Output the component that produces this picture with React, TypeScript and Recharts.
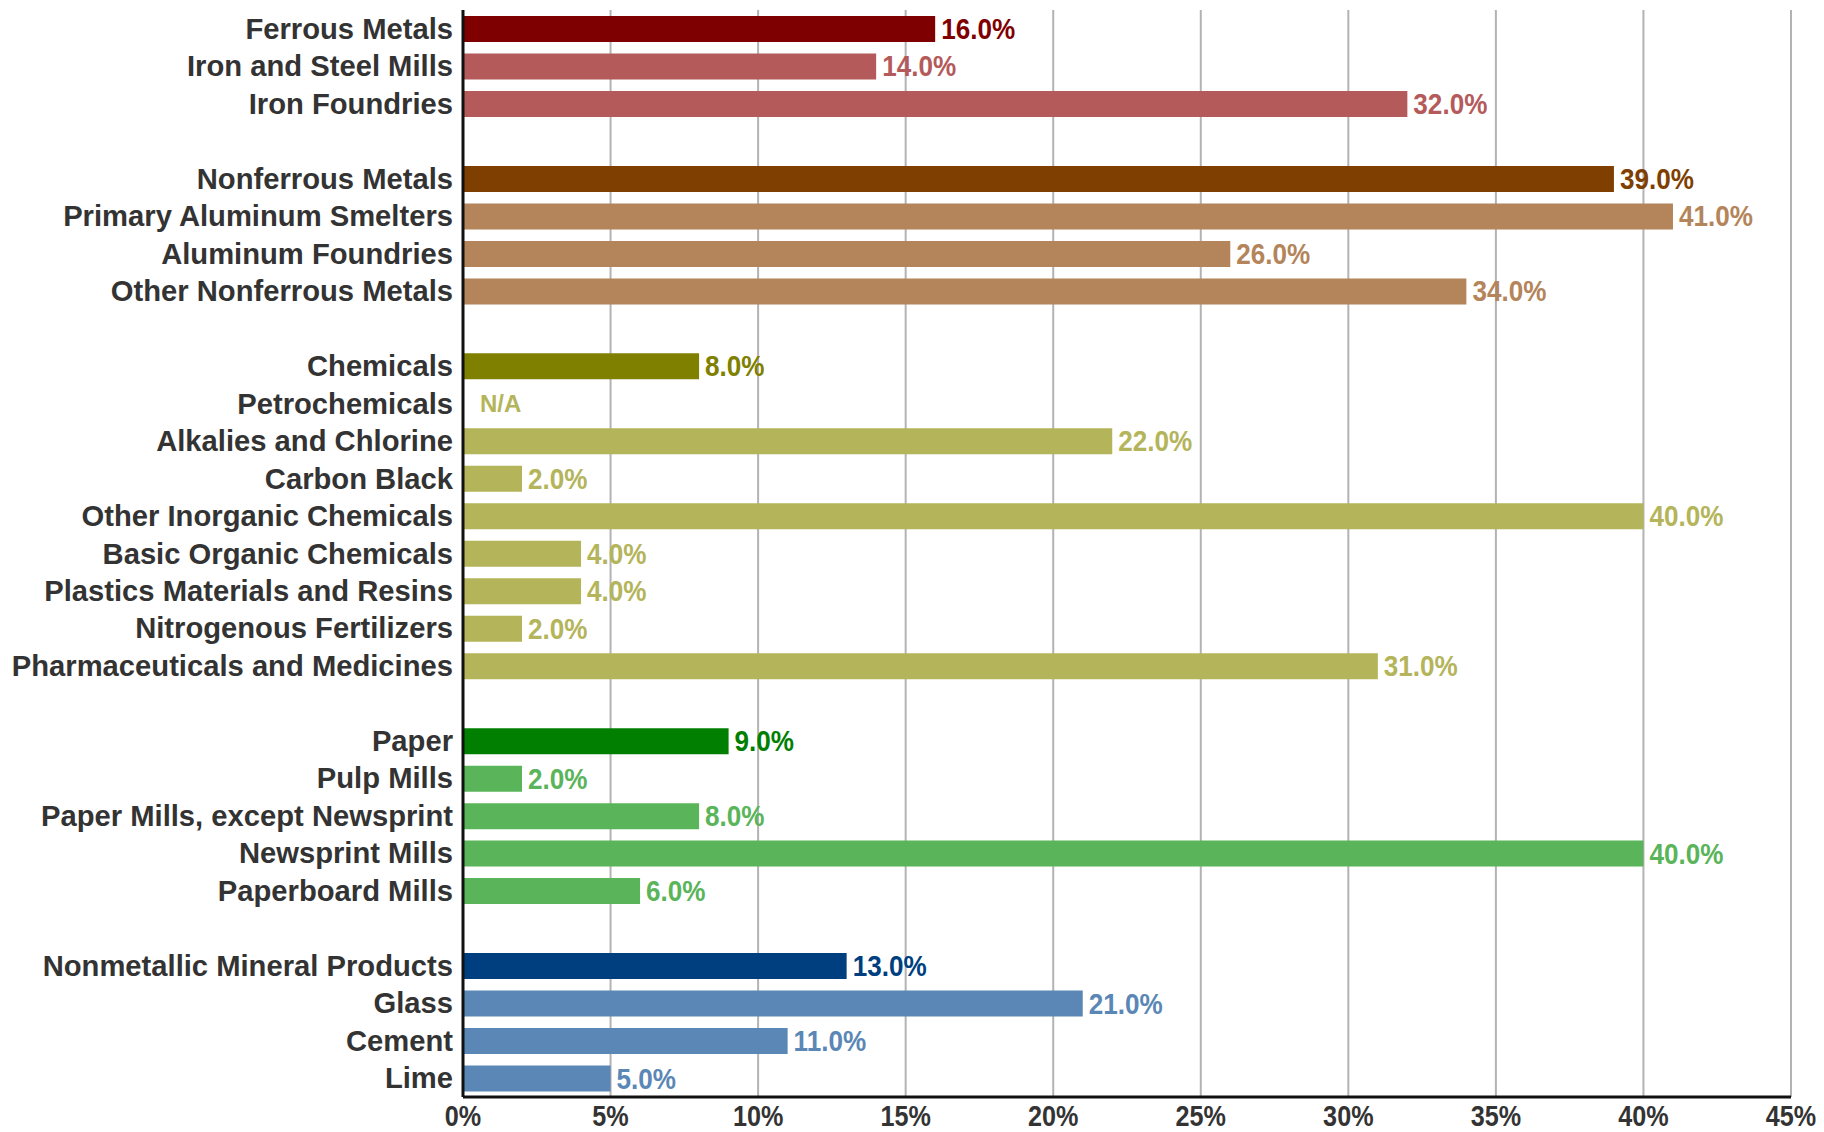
import React from "react"
import {
  BarChart,
  Bar,
  XAxis,
  YAxis,
  CartesianGrid,
  Cell,
  LabelList,
} from "recharts"

// each group: header row first, then its sub-industries
const FERROUS_LABELS = ["Ferrous Metals", "Iron and Steel Mills", "Iron Foundries"]
const FERROUS_VALUES = [16, 14, 32]

const NONFERROUS_LABELS = [
  "Nonferrous Metals",
  "Primary Aluminum Smelters",
  "Aluminum Foundries",
  "Other Nonferrous Metals",
]
const NONFERROUS_VALUES = [39, 41, 26, 34]

const CHEMICALS_LABELS = [
  "Chemicals",
  "Petrochemicals",
  "Alkalies and Chlorine",
  "Carbon Black",
  "Other Inorganic Chemicals",
  "Basic Organic Chemicals",
  "Plastics Materials and Resins",
  "Nitrogenous Fertilizers",
  "Pharmaceuticals and Medicines",
]
const CHEMICALS_VALUES: (number | null)[] = [8, null, 22, 2, 40, 4, 4, 2, 31]

const PAPER_LABELS = [
  "Paper",
  "Pulp Mills",
  "Paper Mills, except Newsprint",
  "Newsprint Mills",
  "Paperboard Mills",
]
const PAPER_VALUES = [9, 2, 8, 40, 6]

const MINERAL_LABELS = ["Nonmetallic Mineral Products", "Glass", "Cement", "Lime"]
const MINERAL_VALUES = [13, 21, 11, 5]

const X_TICKS = [0, 5, 10, 15, 20, 25, 30, 35, 40, 45]

// [header colour, sub-row colour]
const GROUP_COLORS = [
  ["#7f0000", "#b45a5a"],
  ["#7f3f00", "#b4845a"],
  ["#7f7f00", "#b4b45a"],
  ["#007f00", "#5ab45a"],
  ["#003f7f", "#5a87b5"],
]

const GROUPS = [
  [FERROUS_LABELS, FERROUS_VALUES],
  [NONFERROUS_LABELS, NONFERROUS_VALUES],
  [CHEMICALS_LABELS, CHEMICALS_VALUES],
  [PAPER_LABELS, PAPER_VALUES],
  [MINERAL_LABELS, MINERAL_VALUES],
] as const

type Row = { key: string; label: string; value: number; na: boolean; color: string }

const rows: Row[] = []
GROUPS.forEach(([labels, values], g) => {
  if (g > 0) rows.push({ key: `gap${g}`, label: "", value: 0, na: false, color: "none" })
  labels.forEach((label, i) => {
    const v = values[i]
    rows.push({
      key: label,
      label,
      value: v ?? 0,
      na: v === null,
      color: GROUP_COLORS[g][i === 0 ? 0 : 1],
    })
  })
})

const FONT = '"Liberation Sans", Arial, sans-serif'

// category label, plus the "N/A" marker for rows with no value
const YTick = (props: any) => {
  const { x, y, payload } = props
  const row = rows.find((r) => r.key === payload.value)
  if (!row || !row.label) return null
  return (
    <g>
      <text x={x - 2} y={y} dy={10} textAnchor="end" fontSize={29.2} fontWeight="bold" fill="#333" fontFamily={FONT}>
        {row.label}
      </text>
      {row.na && (
        <text x={x + 25} y={y} dy={8.5} fontSize={24} fontWeight="bold" fill={row.color} fontFamily={FONT}>
          N/A
        </text>
      )}
    </g>
  )
}

const XTick = (props: any) => {
  const { x, y, payload } = props
  return (
    <text
      transform={`translate(${x},${y + 21}) scale(0.84,1)`}
      x={0}
      y={0}
      textAnchor="middle"
      fontSize={30}
      fontWeight="bold"
      fill="#333"
      fontFamily={FONT}
    >
      {payload.value}%
    </text>
  )
}

const ValueLabel = (props: any) => {
  const { x, y, width, height, value } = props
  const row = rows.find((r) => r.key === value)
  if (!row || !row.label || row.na) return null
  return (
    <text
      transform={`translate(${x + width + 6},${y + height / 2 + 10}) scale(0.9,1)`}
      x={0}
      y={0}
      fontSize={29}
      fontWeight="bold"
      fill={row.color}
      fontFamily={FONT}
    >
      {`${row.value.toFixed(1)}%`}
    </text>
  )
}

export default function App() {
  return (
    <div style={{ fontFamily: FONT }}>
      <BarChart
        width={1816}
        height={1124}
        data={rows}
        layout="vertical"
        margin={{ top: 2, right: 33, left: 0, bottom: 0 }}
      >
        <CartesianGrid horizontal={false} stroke="#b3b3b3" strokeWidth={2} />
        <XAxis
          type="number"
          domain={[0, 45]}
          ticks={X_TICKS}
          tick={<XTick />}
          tickLine={false}
          axisLine={{ stroke: "#111", strokeWidth: 3 }}
          height={35}
          interval={0}
        />
        <YAxis
          type="category"
          dataKey="key"
          width={455}
          tick={<YTick />}
          tickLine={false}
          axisLine={{ stroke: "#111", strokeWidth: 3 }}
          interval={0}
        />
        <Bar dataKey="value" barSize={26} isAnimationActive={false}>
          {rows.map((r) => (
            <Cell key={r.key} fill={r.color} />
          ))}
          <LabelList dataKey="key" content={<ValueLabel />} />
        </Bar>
      </BarChart>
    </div>
  )
}
